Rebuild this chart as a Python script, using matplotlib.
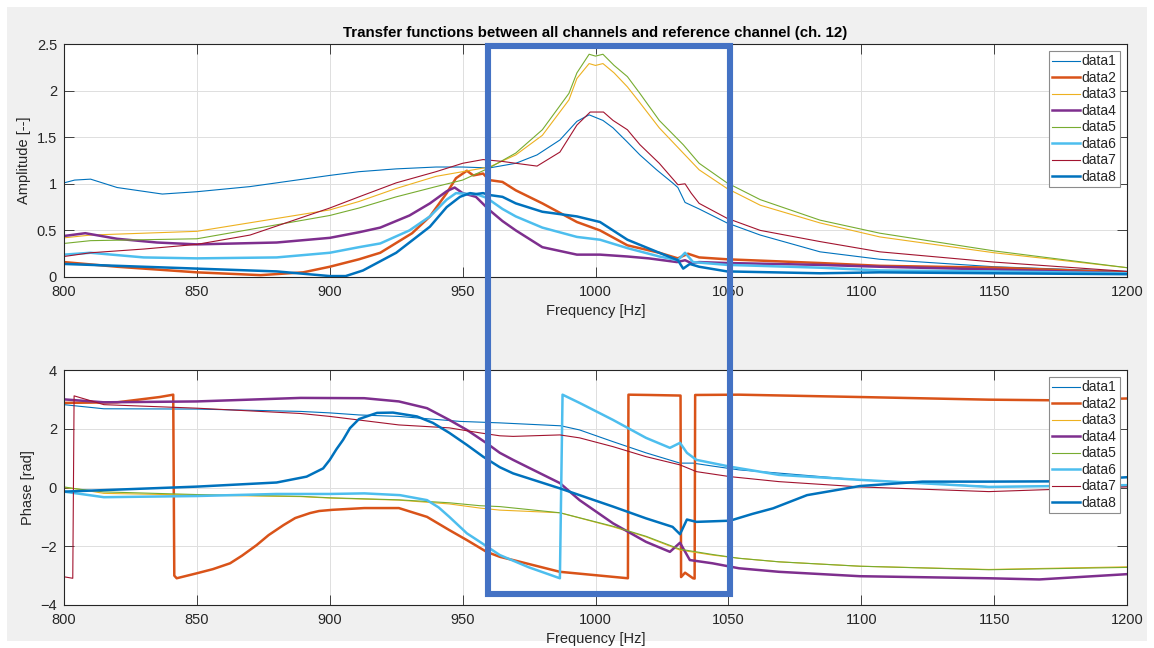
import matplotlib
matplotlib.use("Agg")
import matplotlib.pyplot as plt
from matplotlib.patches import Rectangle

# ---------------- amplitude data ----------------
f_amp1 = [800, 804, 810, 820, 837, 850, 870, 900, 911, 925, 940, 950, 960, 970, 978, 986.6, 993,
          997.6, 1002.8, 1006.6, 1011.9, 1016.7, 1023, 1029, 1031, 1033.7, 1039, 1049.5, 1062,
          1084.5, 1107, 1150, 1200]
amp1 = [1.01, 1.04, 1.05, 0.96, 0.89, 0.915, 0.97, 1.09, 1.13, 1.16, 1.18, 1.18, 1.17, 1.22, 1.31,
        1.47, 1.67, 1.74, 1.68, 1.6, 1.45, 1.31, 1.15, 1.01, 0.96, 0.80, 0.73, 0.58, 0.45, 0.27,
        0.19, 0.11, 0.06]

f_amp35 = [800, 810, 850, 900, 911, 925, 940, 950, 960, 970, 980, 990, 993, 997.6, 1000, 1002.8,
           1007, 1012, 1016.7, 1024, 1033, 1039, 1049.5, 1062, 1084.5, 1107, 1150, 1200]
amp3 = [0.42, 0.45, 0.49, 0.72, 0.81, 0.95, 1.08, 1.13, 1.18, 1.31, 1.52, 1.9, 2.13, 2.29, 2.27,
        2.29, 2.19, 2.04, 1.87, 1.6, 1.33, 1.15, 0.95, 0.77, 0.58, 0.43, 0.26, 0.1]
amp5 = [0.36, 0.39, 0.41, 0.66, 0.74, 0.86, 0.97, 1.04, 1.17, 1.33, 1.58, 1.97, 2.19, 2.39, 2.37,
        2.39, 2.27, 2.15, 1.97, 1.68, 1.42, 1.22, 1.01, 0.83, 0.61, 0.47, 0.28, 0.1]

f_amp7 = [800, 810, 830, 850, 870, 900, 911, 925, 940, 950, 957.7, 965, 970, 978, 986.6, 993, 998,
          1003, 1006.6, 1012, 1016.7, 1024, 1031, 1033.7, 1036, 1039, 1049.5, 1062, 1084.5, 1107,
          1150, 1200]
amp7 = [0.22, 0.26, 0.30, 0.35, 0.45, 0.74, 0.86, 1.01, 1.13, 1.22, 1.26, 1.24, 1.22, 1.19, 1.34,
        1.63, 1.77, 1.77, 1.68, 1.58, 1.42, 1.22, 0.99, 1.0, 0.9, 0.79, 0.63, 0.50, 0.38, 0.27,
        0.16, 0.06]

f_amp4 = [800, 808, 820, 835, 850, 880, 900, 911, 919, 930, 937.7, 944, 947, 950, 955, 960, 965,
          970, 980, 993, 1001.7, 1012, 1020, 1030.7, 1033.7, 1036, 1039, 1049.5, 1084.5, 1107,
          1150, 1200]
amp4 = [0.44, 0.47, 0.41, 0.37, 0.35, 0.37, 0.42, 0.48, 0.53, 0.66, 0.79, 0.92, 0.96, 0.9, 0.86,
        0.72, 0.6, 0.5, 0.32, 0.24, 0.24, 0.22, 0.2, 0.16, 0.18, 0.15, 0.16, 0.15, 0.13, 0.11,
        0.08, 0.04]

f_amp6 = [800, 810, 830, 850, 880, 900, 911, 919, 930, 937.7, 944, 947.5, 952.8, 955, 959, 965,
          970, 980, 993, 1001.7, 1012, 1024, 1031, 1033.7, 1036.7, 1049.5, 1084.5, 1107, 1150, 1200]
amp6 = [0.24, 0.26, 0.21, 0.2, 0.21, 0.26, 0.32, 0.36, 0.5, 0.65, 0.83, 0.9, 0.89, 0.89, 0.85,
        0.73, 0.65, 0.53, 0.43, 0.4, 0.31, 0.22, 0.18, 0.26, 0.16, 0.13, 0.1, 0.07, 0.06, 0.04]

f_amp2 = [800, 820, 850, 874, 890, 900, 911, 919, 931, 937.7, 944, 947.5, 951.6, 954, 957.7, 960,
          965, 970, 980, 993, 1001.7, 1012, 1024, 1031, 1034.8, 1039, 1049.5, 1084.5, 1107, 1150,
          1200]
amp2 = [0.16, 0.11, 0.05, 0.02, 0.05, 0.11, 0.19, 0.26, 0.47, 0.65, 0.9, 1.06, 1.14, 1.09, 1.11,
        1.04, 1.02, 0.93, 0.79, 0.59, 0.5, 0.34, 0.26, 0.2, 0.25, 0.21, 0.19, 0.15, 0.12, 0.1, 0.05]

f_amp8 = [800, 850, 880, 900, 906, 912.5, 925, 937.7, 944, 949, 952.8, 955, 957.7, 960, 965, 970,
          980, 993, 1001.7, 1012, 1024, 1031, 1033, 1035.5, 1039, 1049.5, 1084.5, 1107, 1150, 1200]
amp8 = [0.14, 0.09, 0.06, 0.01, 0.01, 0.07, 0.26, 0.54, 0.75, 0.86, 0.9, 0.89, 0.9, 0.88, 0.86,
        0.79, 0.7, 0.65, 0.59, 0.4, 0.26, 0.18, 0.09, 0.14, 0.11, 0.06, 0.04, 0.05, 0.04, 0.03]

# ---------------- phase data ----------------
f_ph1 = [800, 815, 850, 889, 900, 911, 926, 949, 964, 987, 994, 1006.6, 1019, 1031.8, 1036.7,
         1044, 1054, 1069, 1099.5, 1148, 1200]
ph1 = [2.82, 2.68, 2.67, 2.59, 2.54, 2.47, 2.42, 2.25, 2.2, 2.1, 1.96, 1.56, 1.18, 0.83, 0.83,
       0.73, 0.6, 0.49, 0.26, 0.03, 0.05]

f_ph2 = [800, 820, 836, 841.1, 841.5, 842.4, 850, 856, 862.5, 867, 872.5, 877, 882.6, 887, 892.6,
         896, 901, 913, 926, 936.6, 945, 951.6, 959, 964, 969, 986.6, 1012.2, 1012.4, 1020, 1032.0,
         1032.2, 1033.7, 1036.7, 1037.3, 1037.5, 1054, 1099.5, 1148, 1171, 1200]
ph2 = [2.88, 2.9, 3.08, 3.16, -3.0, -3.09, -2.92, -2.78, -2.58, -2.32, -1.96, -1.62, -1.28, -1.04,
       -0.87, -0.8, -0.76, -0.7, -0.7, -1.0, -1.45, -1.79, -2.19, -2.36, -2.47, -2.87, -3.09, 3.16,
       3.15, 3.13, -3.05, -2.9, -3.09, -3.1, 3.15, 3.16, 3.08, 2.99, 2.97, 3.03]

f_ph35 = [800, 805, 815, 850, 889, 900, 926, 945, 956.5, 964, 986.6, 1006.6, 1019, 1031.8, 1044,
          1054, 1069, 1099.5, 1148, 1200]
ph3 = [0.0, -0.05, -0.2, -0.26, -0.31, -0.36, -0.43, -0.56, -0.7, -0.77, -0.86, -1.34, -1.68,
       -2.13, -2.3, -2.41, -2.53, -2.68, -2.79, -2.7]
ph5 = [0.02, -0.05, -0.15, -0.24, -0.3, -0.35, -0.42, -0.52, -0.62, -0.65, -0.86, -1.32, -1.66,
       -2.1, -2.28, -2.41, -2.53, -2.68, -2.8, -2.72]

f_ph4 = [800, 815, 850, 889, 913, 926, 936.6, 945, 951.6, 959, 964, 969, 977, 986.6, 994, 1006.6,
         1019, 1028, 1031.8, 1035.5, 1044, 1054, 1069, 1099.5, 1148, 1167, 1200]
ph4 = [3.0, 2.9, 2.93, 3.05, 3.04, 2.93, 2.7, 2.3, 1.96, 1.51, 1.18, 0.94, 0.58, 0.15, -0.43,
       -1.22, -1.85, -2.19, -1.88, -2.47, -2.58, -2.75, -2.87, -3.02, -3.09, -3.13, -2.95]

f_ph6 = [800, 815, 850, 880, 900, 913, 926.4, 936.6, 941, 945, 951.6, 956.5, 964, 975, 986.6,
         987.6, 994, 1006.6, 1019, 1028, 1031.8, 1034.4, 1038, 1050.6, 1069, 1099.5, 1148, 1200]
ph6 = [-0.14, -0.33, -0.29, -0.22, -0.22, -0.2, -0.26, -0.43, -0.68, -1.0, -1.56, -1.85, -2.3,
       -2.72, -3.09, 3.16, 2.88, 2.3, 1.69, 1.35, 1.52, 1.18, 0.94, 0.71, 0.43, 0.26, 0.02, 0.08]

f_ph7 = [800, 803.3, 803.8, 815, 850, 889, 900, 926, 945, 956.5, 964, 969, 986.6, 994, 1006.6,
         1019, 1031.8, 1038, 1050.6, 1069, 1099.5, 1148, 1200]
ph7 = [-3.04, -3.09, 3.12, 2.82, 2.7, 2.52, 2.42, 2.13, 2.03, 1.86, 1.76, 1.74, 1.79, 1.69, 1.39,
       1.05, 0.77, 0.54, 0.37, 0.2, 0.02, -0.14, 0.02]

f_ph8 = [800, 850, 880, 891.3, 897.5, 900, 902.5, 905, 907.6, 911, 917.8, 923.8, 932.8, 938.8,
         945, 951.6, 957.7, 964, 969, 986.6, 994, 1006.6, 1019, 1029, 1031.8, 1034.4, 1038,
         1050.6, 1059, 1066.8, 1079.6, 1099.5, 1123, 1148, 1173.6, 1200]
ph8 = [-0.14, 0.03, 0.17, 0.37, 0.65, 0.94, 1.3, 1.62, 2.02, 2.33, 2.54, 2.55, 2.42, 2.2, 1.86,
       1.45, 1.05, 0.69, 0.48, -0.03, -0.26, -0.65, -1.05, -1.34, -1.59, -1.09, -1.17, -1.13,
       -0.9, -0.71, -0.26, 0.05, 0.2, 0.2, 0.21, 0.35]

labels = ["data1", "data2", "data3", "data4", "data5", "data6", "data7", "data8"]
colors = ["#0072BD", "#D95319", "#EDB120", "#7E2F8E", "#77AC30", "#4DBEEE", "#A2142F", "#0072BD"]
widths = [0.8, 1.8, 0.8, 1.8, 0.8, 1.8, 0.8, 1.8]

amp_series = [(f_amp1, amp1), (f_amp2, amp2), (f_amp35, amp3), (f_amp4, amp4),
              (f_amp35, amp5), (f_amp6, amp6), (f_amp7, amp7), (f_amp8, amp8)]
ph_series = [(f_ph1, ph1), (f_ph2, ph2), (f_ph35, ph3), (f_ph4, ph4),
             (f_ph35, ph5), (f_ph6, ph6), (f_ph7, ph7), (f_ph8, ph8)]

plt.rcParams["font.family"] = ["Liberation Sans", "DejaVu Sans"]
dark = "#262626"
fs = 10.5

W, H = 1154, 648
fig = plt.figure(figsize=(W / 100, H / 100), dpi=100, facecolor="white")
# grey panel inside a thin white margin
fig.add_artist(Rectangle((7 / W, 7 / H), 1 - 14 / W, 1 - 14 / H, transform=fig.transFigure,
                         facecolor="#f0f0f0", edgecolor="none", zorder=-10))

ax1 = fig.add_axes([64 / W, 1 - 277 / H, (1127 - 64) / W, (277 - 44) / H])
ax2 = fig.add_axes([64 / W, 1 - 605 / H, (1127 - 64) / W, (605 - 370) / H])


def style(ax):
    ax.set_facecolor("white")
    ax.set_xlim(800, 1200)
    ax.set_xticks([800, 850, 900, 950, 1000, 1050, 1100, 1150, 1200])
    ax.grid(True, color="#dfdfdf", linewidth=0.7)
    ax.set_axisbelow(True)
    for s in ax.spines.values():
        s.set_color(dark)
        s.set_linewidth(0.8)
    ax.tick_params(direction="in", length=7.5, width=0.6, color=dark, labelcolor=dark,
                   labelsize=fs, top=True, right=True, pad=6)
    ax.tick_params(axis="y", pad=5)
    ax.set_xlabel("Frequency [Hz]", fontsize=fs, color=dark, labelpad=3)


for (f, v), lab, c, lw in zip(amp_series, labels, colors, widths):
    ax1.plot(f, v, color=c, lw=lw, label=lab)
for (f, v), lab, c, lw in zip(ph_series, labels, colors, widths):
    ax2.plot(f, v, color=c, lw=lw, label=lab)

style(ax1)
style(ax2)
ax1.set_ylim(0, 2.5)
ax1.set_yticks([0, 0.5, 1, 1.5, 2, 2.5])
ax1.set_yticklabels(["0", "0.5", "1", "1.5", "2", "2.5"])
ax1.set_ylabel("Amplitude [--]", fontsize=fs, color=dark, labelpad=4)
ax2.set_ylim(-4, 4)
ax2.set_yticks([-4, -2, 0, 2, 4])
ax2.set_ylabel("Phase [rad]", fontsize=fs, color=dark, labelpad=4)

ax1.set_title("Transfer functions between all channels and reference channel (ch. 12)",
              fontsize=fs + 0.3, fontweight="bold", color="black", pad=5)

for ax in (ax1, ax2):
    leg = ax.legend(loc="upper right", fontsize=10, handlelength=2.0, handletextpad=0.1,
                    labelspacing=0.18, borderpad=0.25, borderaxespad=0.5, fancybox=False,
                    framealpha=1, edgecolor="#8c8c8c")
    leg.get_frame().set_linewidth(0.8)
    for t in leg.get_texts():
        t.set_color(dark)

# highlighted frequency band
fig.add_artist(Rectangle((488 / W, 1 - 594 / H), (729.5 - 488) / W, (594 - 45.5) / H,
                         transform=fig.transFigure, fill=False, edgecolor="#4472C4",
                         linewidth=4.4, zorder=20))

fig.savefig("out.png", dpi=100, facecolor=fig.get_facecolor())
